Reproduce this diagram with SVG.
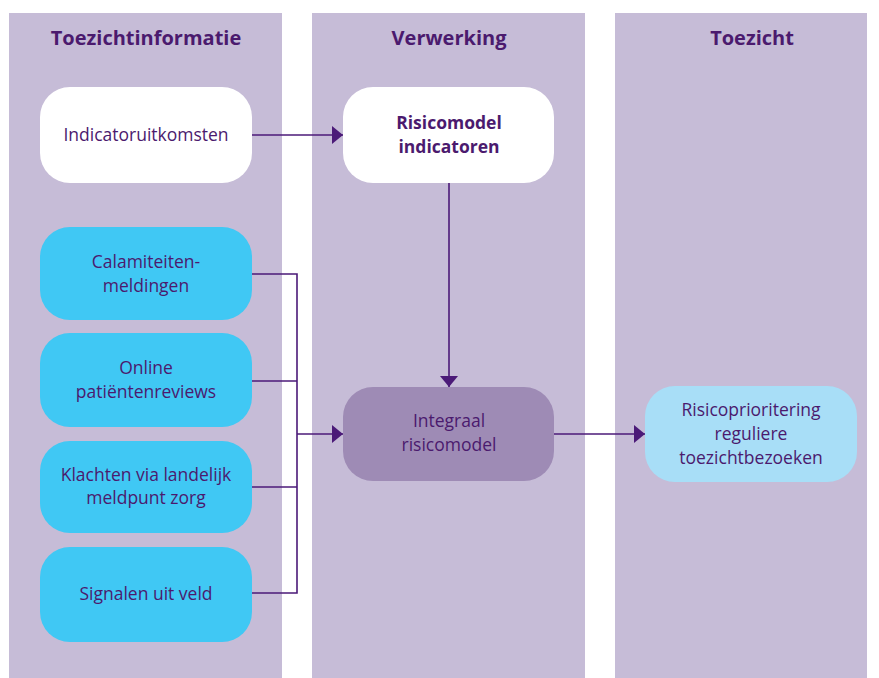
<svg xmlns="http://www.w3.org/2000/svg" width="879" height="678" viewBox="0 0 879 678">
<defs>
<style>
.lane{fill:#C6BCD7}
.hdr{font-family:"Open Sans","Noto Sans",sans-serif;font-weight:bold;font-size:20px;fill:#4B1A6E;text-anchor:middle}
.t{font-family:"Open Sans","Noto Sans",sans-serif;font-size:17.5px;fill:#4B1A6E;text-anchor:middle}
.tb{font-family:"Open Sans","Noto Sans",sans-serif;font-size:17.5px;font-weight:bold;fill:#4B1A6E;text-anchor:middle}
.ln{fill:none;stroke:#4B1A78;stroke-width:1.6}
.blue{fill:#40C8F4}
</style>
<marker id="ah" viewBox="0 0 11 18" refX="11" refY="9" markerWidth="11" markerHeight="18" markerUnits="userSpaceOnUse" orient="auto">
<path d="M0,0 L11,9 L0,18 Z" fill="#4B1A78"/>
</marker>
</defs>
<rect width="879" height="678" fill="#FFFFFF"/>
<g id="lane-toezichtinformatie">
<rect class="lane" x="9" y="13" width="273" height="665"/>
<text class="hdr" x="146" y="45">Toezichtinformatie</text>
</g>
<g id="lane-verwerking">
<rect class="lane" x="312" y="13" width="273" height="665"/>
<text class="hdr" x="449" y="45">Verwerking</text>
</g>
<g id="lane-toezicht">
<rect class="lane" x="615" y="13" width="252" height="665"/>
<text class="hdr" x="752" y="45">Toezicht</text>
</g>
<g id="connectors">
<line class="ln" x1="252" y1="135" x2="343" y2="135" marker-end="url(#ah)"/>
<line class="ln" x1="449" y1="183" x2="449" y2="387" marker-end="url(#ah)"/>
<polyline class="ln" points="252,274 297,274 297,593 252,593"/>
<line class="ln" x1="252" y1="381" x2="297" y2="381"/>
<line class="ln" x1="252" y1="487" x2="297" y2="487"/>
<line class="ln" x1="297" y1="434" x2="343" y2="434" marker-end="url(#ah)"/>
<line class="ln" x1="554" y1="434" x2="645" y2="434" marker-end="url(#ah)"/>
</g>
<g id="indicatoruitkomsten">
<rect x="40" y="87" width="212" height="96" rx="30" fill="#FFFFFF"/>
<text class="t" x="146" y="141">Indicatoruitkomsten</text>
</g>
<g id="risicomodel-indicatoren">
<rect x="343" y="87" width="211" height="96" rx="30" fill="#FFFFFF"/>
<text class="tb" x="449" y="129">Risicomodel</text>
<text class="tb" x="449" y="153">indicatoren</text>
</g>
<g id="calamiteitenmeldingen">
<rect class="blue" x="40" y="227" width="212" height="93" rx="30"/>
<text class="t" x="146" y="268">Calamiteiten-</text>
<text class="t" x="146" y="292">meldingen</text>
</g>
<g id="online-patientenreviews">
<rect class="blue" x="40" y="333" width="212" height="94" rx="30"/>
<text class="t" x="146" y="374">Online</text>
<text class="t" x="146" y="398">patiëntenreviews</text>
</g>
<g id="klachten">
<rect class="blue" x="40" y="441" width="212" height="92" rx="30"/>
<text class="t" x="146" y="481">Klachten via landelijk</text>
<text class="t" x="146" y="504">meldpunt zorg</text>
</g>
<g id="signalen">
<rect class="blue" x="40" y="547" width="212" height="95" rx="30"/>
<text class="t" x="146" y="600">Signalen uit veld</text>
</g>
<g id="integraal-risicomodel">
<rect x="343" y="387" width="211" height="94" rx="30" fill="#9E8BB5"/>
<text class="t" x="449" y="427">Integraal</text>
<text class="t" x="449" y="451">risicomodel</text>
</g>
<g id="risicoprioritering">
<rect x="645" y="386" width="212" height="96" rx="30" fill="#A8DEF7"/>
<text class="t" x="751" y="416">Risicoprioritering</text>
<text class="t" x="751" y="440">reguliere</text>
<text class="t" x="751" y="464">toezichtbezoeken</text>
</g>
</svg>
